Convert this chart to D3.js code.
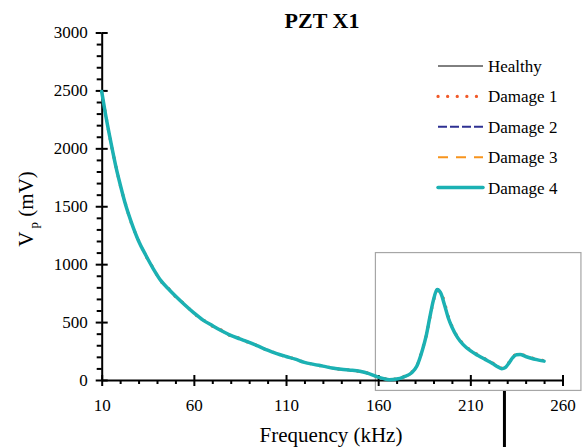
<!DOCTYPE html>
<html>
<head>
<meta charset="utf-8">
<script src="https://cdn.jsdelivr.net/npm/d3@7"></script>
<style>
  body { margin: 0; background: #fff; }
  text { font-family: "Liberation Serif", "Times New Roman", serif; fill: #000; }
</style>
</head>
<body>
<div id="chart"></div>
<script>
// frequency (kHz) sample points shared by all series
const freqs = [10, 12, 15, 18, 20, 23, 26, 30, 34, 38, 42, 46, 50, 55, 60, 65, 70, 75, 80, 85,
  90, 95, 100, 105, 110, 115, 120, 125, 130, 135, 140, 145, 150, 155, 160, 163, 166, 170, 174, 178,
  181, 184, 186, 188, 190, 192, 194, 196, 198, 200, 203, 206, 210, 214, 218, 222, 225, 227, 229, 231,
  233, 235, 237, 240, 243, 246, 250];

// Vp (mV)
const healthy = [2490, 2300, 2050, 1820, 1690, 1510, 1365, 1200, 1075, 960, 860, 790, 725, 650, 580, 517, 470, 425, 385, 355,
  325, 292, 258, 228, 203, 180, 152, 135, 120, 104, 92, 85, 75, 55, 25, 12, 2, 8, 28, 60,
  120, 260, 380, 540, 690, 780, 750, 650, 540, 460, 370, 310, 255, 215, 180, 145, 115, 100, 110, 150,
  195, 220, 222, 205, 190, 178, 165];
const damage1 = [2490, 2305, 2045, 1825, 1685, 1515, 1360, 1205, 1070, 965, 855, 795, 720, 655, 575, 520, 465, 430, 380, 360,
  320, 295, 255, 230, 200, 182, 150, 137, 118, 106, 90, 87, 73, 57, 23, 14, 4, 10, 30, 65,
  125, 265, 375, 535, 685, 770, 760, 665, 550, 465, 372, 315, 258, 218, 182, 148, 117, 102, 112, 152,
  197, 222, 224, 207, 192, 180, 167];
const damage2 = [2490, 2300, 2050, 1820, 1690, 1510, 1365, 1200, 1075, 960, 860, 790, 725, 650, 580, 517, 470, 425, 385, 355,
  325, 292, 258, 228, 203, 180, 152, 135, 120, 104, 92, 85, 75, 55, 25, 12, 2, 8, 28, 60,
  120, 260, 380, 540, 690, 785, 752, 650, 540, 460, 370, 310, 255, 215, 180, 145, 115, 100, 110, 150,
  195, 220, 222, 205, 190, 178, 165];
const damage3 = [2490, 2298, 2052, 1818, 1692, 1508, 1367, 1198, 1077, 958, 862, 788, 727, 648, 582, 515, 472, 423, 387, 353,
  327, 290, 260, 226, 205, 178, 154, 133, 122, 102, 94, 83, 77, 53, 27, 10, 3, 7, 27, 58,
  118, 255, 378, 538, 688, 778, 748, 648, 538, 458, 368, 308, 253, 213, 178, 143, 113, 98, 108, 148,
  193, 218, 220, 203, 188, 176, 163];
const damage4 = [2490, 2300, 2050, 1820, 1690, 1510, 1365, 1200, 1075, 960, 860, 790, 725, 650, 580, 517, 470, 425, 385, 355,
  325, 292, 258, 228, 203, 180, 152, 135, 120, 104, 92, 85, 75, 55, 25, 12, 2, 8, 28, 60,
  120, 258, 378, 540, 692, 782, 748, 648, 538, 458, 368, 308, 253, 213, 178, 143, 113, 98, 108, 148,
  193, 218, 220, 203, 188, 176, 163];

const seriesNames = ["Healthy", "Damage 1", "Damage 2", "Damage 3", "Damage 4"];
const seriesValues = [healthy, damage1, damage2, damage3, damage4];

const xMajorTicks = [10, 60, 110, 160, 210, 260];
const yMajorTicks = [0, 500, 1000, 1500, 2000, 2500, 3000];

// highlighted region [kHz, kHz] x [mV, mV] and marker frequency
const boxFreq = [158.5, 270];
const boxMv = [1100, -90];
const markerFreq = 228.5;

const W = 585, H = 447;
const serif = "'Liberation Serif', 'Times New Roman', serif";
const styles = [
  { color: "#000000", width: 1, dash: null, cap: "butt" },
  { color: "#f15a29", width: 3.2, dash: "0.1 9.5", cap: "round" },
  { color: "#2e3192", width: 2, dash: "9 3", cap: "butt" },
  { color: "#f7941d", width: 2, dash: "10 8", cap: "butt" },
  { color: "#1bb1b3", width: 3.5, dash: null, cap: "round" }
];

const svg = d3.select("#chart").append("svg")
  .attr("width", W)
  .attr("height", H);

const x = d3.scaleLinear().domain([10, 260]).range([101.7, 562.5]);
const y = d3.scaleLinear().domain([0, 3000]).range([380, 32.5]);

// highlight box
svg.append("rect")
  .attr("x", x(boxFreq[0]))
  .attr("y", y(boxMv[0]))
  .attr("width", x(boxFreq[1]) - x(boxFreq[0]))
  .attr("height", y(boxMv[1]) - y(boxMv[0]))
  .attr("fill", "none")
  .attr("stroke", "#a6a6a6")
  .attr("stroke-width", 1.2);

// marker below axis
svg.append("line")
  .attr("x1", x(markerFreq)).attr("x2", x(markerFreq))
  .attr("y1", y(-95)).attr("y2", H)
  .attr("stroke", "#000")
  .attr("stroke-width", 3);

// axes
const xMinor = d3.range(10, 261, 10).filter(v => !xMajorTicks.includes(v));
const yMinor = d3.range(0, 3001, 100).filter(v => !yMajorTicks.includes(v));

const xAxisG = svg.append("g").attr("transform", `translate(0,${y(0)})`);
xAxisG.call(d3.axisBottom(x).tickValues(xMajorTicks).tickFormat(d3.format("d"))
  .tickSize(6).tickSizeOuter(0).tickPadding(13));
xAxisG.append("g").call(d3.axisBottom(x).tickValues(xMinor).tickSize(4).tickFormat(""))
  .select(".domain").remove();
xAxisG.append("g").call(d3.axisTop(x).tickValues(xMajorTicks).tickSize(5).tickFormat(""))
  .select(".domain").remove();

const yAxisG = svg.append("g").attr("transform", `translate(${x(10)},0)`);
yAxisG.call(d3.axisLeft(y).tickValues(yMajorTicks).tickFormat(d3.format("d"))
  .tickSize(6).tickSizeOuter(0).tickPadding(8));
yAxisG.append("g").call(d3.axisLeft(y).tickValues(yMinor).tickSize(5).tickFormat(""))
  .select(".domain").remove();
yAxisG.append("g").call(d3.axisRight(y).tickValues(yMajorTicks).tickSize(6).tickFormat(""))
  .select(".domain").remove();

[xAxisG, yAxisG].forEach(g => g.attr("font-family", serif).attr("font-size", 17));
svg.selectAll(".domain").attr("stroke", "#000").attr("stroke-width", 2);
svg.selectAll(".tick line").attr("stroke", "#000").attr("stroke-width", 2);
svg.selectAll(".tick text")
  .attr("font-family", serif)
  .attr("font-size", 17)
  .attr("fill", "#000");

// series
const line = d3.line()
  .x((d, i) => x(freqs[i]))
  .y(d => y(d))
  .curve(d3.curveMonotoneX);

seriesValues.forEach((vals, i) => {
  svg.append("path")
    .datum(vals)
    .attr("d", line)
    .attr("fill", "none")
    .attr("stroke", styles[i].color)
    .attr("stroke-width", styles[i].width)
    .attr("stroke-dasharray", styles[i].dash)
    .attr("stroke-linecap", styles[i].cap)
    .attr("stroke-linejoin", "round");
});

// legend
const legend = svg.append("g").attr("transform", "translate(438,66)");
seriesNames.forEach((name, i) => {
  const g = legend.append("g").attr("transform", `translate(0,${i * 30.4})`);
  g.append("line")
    .attr("x1", 0).attr("x2", i === 2 ? 48 : 45)
    .attr("stroke", styles[i].color)
    .attr("stroke-width", styles[i].width)
    .attr("stroke-dasharray", styles[i].dash)
    .attr("stroke-linecap", styles[i].cap);
  g.append("text")
    .attr("x", 50)
    .attr("y", 6)
    .style("font-size", "17px")
    .text(name);
});

// title
svg.append("text")
  .attr("x", 322)
  .attr("y", 28)
  .attr("text-anchor", "middle")
  .style("font-size", "22px")
  .style("font-weight", "bold")
  .text("PZT X1");

// axis titles
svg.append("text")
  .attr("x", 331)
  .attr("y", 442)
  .attr("text-anchor", "middle")
  .style("font-size", "21px")
  .text("Frequency (kHz)");

const yTitle = svg.append("text")
  .attr("transform", "translate(33,209) rotate(-90)")
  .attr("text-anchor", "middle")
  .style("font-size", "21px");
yTitle.append("tspan").text("V");
yTitle.append("tspan").attr("dy", 5).style("font-size", "13px").text(" p");
yTitle.append("tspan").attr("dy", -5).text(" (mV)");
</script>
</body>
</html>
